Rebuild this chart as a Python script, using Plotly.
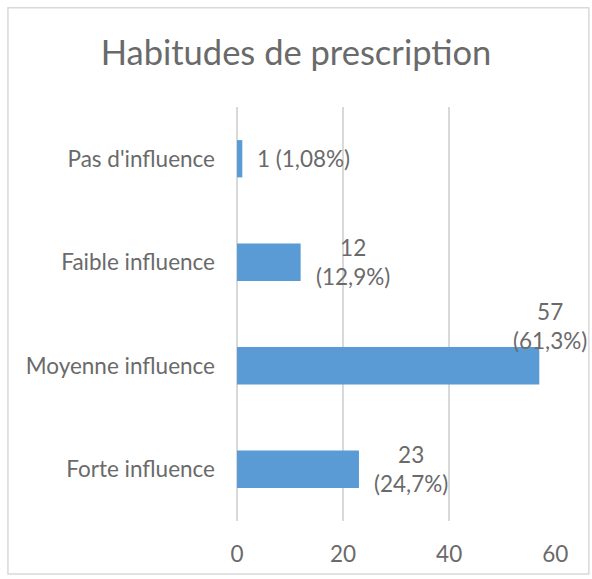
import plotly.graph_objects as go

# données (de haut en bas)
categories = ["Pas d'influence", "Faible influence", "Moyenne influence", "Forte influence"]
effectifs = [1, 12, 57, 23]
pourcentages = ["1,08%", "12,9%", "61,3%", "24,7%"]
x_ticks = [0, 20, 40, 60]

TXT = "#6A6A6A"
GRID = "#D9D9D9"
BLEU = "#5B9BD5"
FONT = "Lato"
FS = 22.5

fig = go.Figure()
fig.add_trace(go.Bar(
    x=effectifs, y=categories, orientation="h",
    marker=dict(color=BLEU, line=dict(width=0)),
    hoverinfo="skip",
))

# étiquettes de données (style Excel : à l'extérieur, retour à la ligne si long)
for cat, n, p in zip(categories, effectifs, pourcentages):
    if n < 10:
        txt = f"{n} ({p})"
    else:
        txt = f"{n}<br>({p})"
    if n > 55:
        # trop près du bord : Excel remonte l'étiquette au-dessus de la barre
        fig.add_annotation(x=n, y=cat, text=txt, showarrow=False, xanchor="center",
                           yanchor="middle", xshift=11, yshift=40, align="center")
    else:
        fig.add_annotation(x=n, y=cat, text=txt, showarrow=False, xanchor="left",
                           yanchor="middle", xshift=13, yshift=0, align="center")

fig.update_annotations(font=dict(family=FONT, size=FS, color=TXT))

# cadre gris autour du graphique
fig.add_shape(type="rect", xref="paper", yref="paper",
              x0=-0.718, x1=1.103, y0=-0.128, y1=1.24,
              line=dict(color=GRID, width=1.5), layer="below")

fig.update_layout(
    width=592, height=579,
    margin=dict(l=237, r=36, t=107, b=58),
    paper_bgcolor="white", plot_bgcolor="white",
    showlegend=False,
    bargap=0.64,
    font=dict(family=FONT, size=FS, color=TXT),
    title=dict(text="Habitudes de prescription", x=0.5, xref="container",
               y=0.908, yanchor="middle",
               font=dict(family=FONT, size=34.5, color=TXT)),
    xaxis=dict(range=[0, 60.15], tickvals=x_ticks, showgrid=True, gridcolor=GRID,
               gridwidth=1.5, zeroline=True, zerolinecolor=GRID, zerolinewidth=1.5,
               showline=False, ticklabelstandoff=17, tickfont=dict(size=FS, color=TXT)),
    yaxis=dict(autorange="reversed", showgrid=False, zeroline=False, showline=False,
               ticklabelstandoff=21, tickfont=dict(size=FS, color=TXT)),
)

fig.write_html("out.html", config={"displayModeBar": False},
               post_script="document.body.style.margin='0';")
